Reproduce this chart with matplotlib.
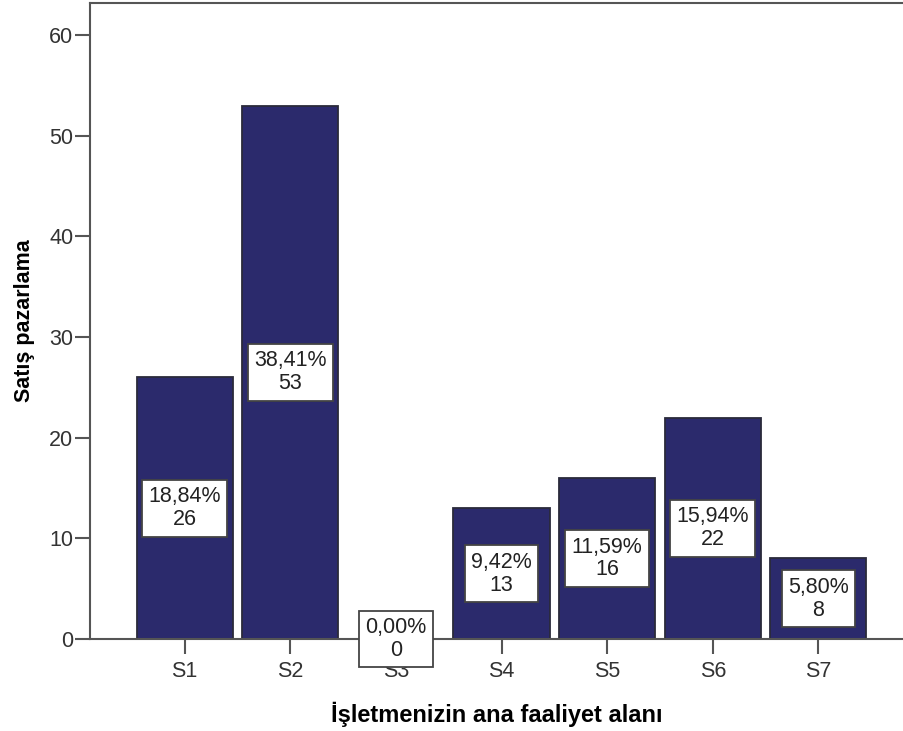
import matplotlib
matplotlib.use("Agg")
import matplotlib.pyplot as plt
import numpy as np

plt.rcParams['font.family'] = ['Liberation Sans', 'DejaVu Sans']

# data
categories = ['S1', 'S2', 'S3', 'S4', 'S5', 'S6', 'S7']
counts = [26, 53, 0, 13, 16, 22, 8]
percents = ['18,84%', '38,41%', '0,00%', '9,42%', '11,59%', '15,94%', '5,80%']

fig = plt.figure(figsize=(9.04, 7.31), dpi=100)
ax = fig.add_axes([0.0996, 0.1259, 0.9004, 0.8700])

x = np.arange(len(categories))
ax.bar(x, counts, width=0.91, color='#2b2a6c', edgecolor='#2a2a3a', linewidth=1.3, zorder=2)

# value labels in the middle of each bar
for xi, c, p in zip(x, counts, percents):
    ax.text(xi, c / 2, f"{p}\n{c}", ha='center', va='center', fontsize=15.5,
            color='#222222', linespacing=1.12, zorder=3,
            bbox=dict(boxstyle='square,pad=0.3', fc='white', ec='#444444', lw=1.3))

ax.set_xlim(-0.895, 6.81)
ax.set_ylim(0, 63.2)
ax.set_xticks(x)
ax.set_xticklabels(categories)
ax.set_yticks([0, 10, 20, 30, 40, 50, 60])

for s in ['left', 'bottom', 'top']:
    ax.spines[s].set_color('#555555')
    ax.spines[s].set_linewidth(1.5)
ax.spines['right'].set_visible(False)

ax.tick_params(axis='both', colors='#555555', labelcolor='#333333', labelsize=15.5,
               length=11, width=1.5)
ax.tick_params(axis='y', pad=1)
ax.tick_params(axis='x', pad=5)

ax.set_ylabel('Satış pazarlama', fontsize=15.5, fontweight='bold', labelpad=10)
ax.set_xlabel('İşletmenizin ana faaliyet alanı', fontsize=17, fontweight='bold', labelpad=14)

fig.savefig('out.png', dpi=100)
